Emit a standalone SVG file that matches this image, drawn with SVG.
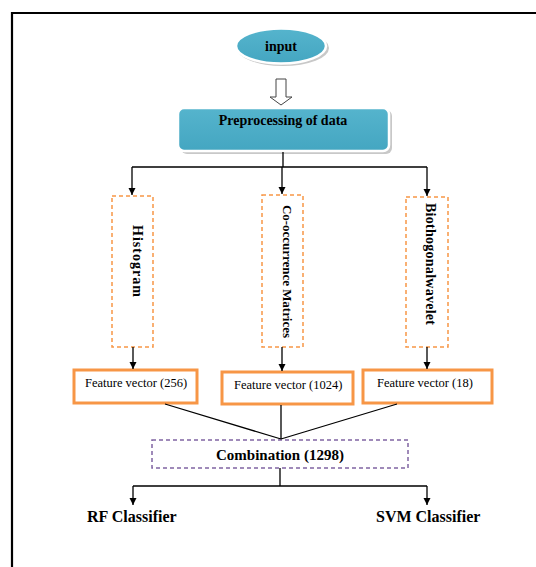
<svg xmlns="http://www.w3.org/2000/svg" width="536" height="567" viewBox="0 0 536 567">
<defs>
<style>
.t{font-family:"Liberation Serif","Times New Roman",serif;fill:#000}
.b{font-weight:bold}
.conn{stroke:#000;stroke-width:1.3;fill:none}
.dash-o{fill:#fff;stroke:#F79646;stroke-width:1.5;stroke-dasharray:4 3}
.fv{fill:#fff;stroke:#F79646;stroke-width:3}
.comb{fill:#fff;stroke:#8064A2;stroke-width:1.5;stroke-dasharray:4 3}
.blue{fill:url(#g);stroke:#fff;stroke-width:2.5}
.shadow{fill:#c8c8c8}
</style>
<linearGradient id="g" x1="0" y1="0" x2="0" y2="1">
<stop offset="0" stop-color="#55B4CD"/>
<stop offset="1" stop-color="#44A6C1"/>
</linearGradient>
<marker id="ah" markerWidth="8" markerHeight="8" refX="7" refY="4" orient="auto" markerUnits="userSpaceOnUse">
<path d="M0,0.5 L7,4 L0,7.5 Z" fill="#000"/>
</marker>
</defs>
<rect width="536" height="567" fill="#fff"/>
<!-- frame -->
<path d="M12,567 L12,13 L536,13" fill="none" stroke="#000" stroke-width="2.2"/>

<g id="input">
<ellipse cx="283" cy="48" rx="46" ry="18" class="shadow"/>
<ellipse cx="281" cy="46" rx="45" ry="17.5" class="blue"/>
<text x="281" y="51" text-anchor="middle" class="t b" font-size="14" fill="#1a1a2e">input</text>
</g>

<g id="hollow-arrow">
<path d="M276,79 L286,79 L286,97 L292,97 L281,105 L270,97 L276,97 Z" fill="#fff" stroke="#444" stroke-width="1"/>
</g>

<g id="preprocessing">
<rect x="181" y="110" width="211" height="44" rx="6" class="shadow"/>
<rect x="178" y="108" width="211" height="43" rx="6" class="blue"/>
<text x="283" y="125" text-anchor="middle" class="t b" font-size="14">Preprocessing of data</text>
</g>

<g id="histogram">
<rect x="112" y="196" width="41" height="151" class="dash-o"/>
<text transform="translate(133,225) rotate(90)" class="t b" font-size="14" textLength="72" lengthAdjust="spacing">Histogram</text>
</g>
<g id="cooccurrence">
<rect x="262" y="195" width="41" height="152" class="dash-o"/>
<text transform="translate(283,205) rotate(90)" class="t b" font-size="13" textLength="133" lengthAdjust="spacing">Co-occurrence Matrices</text>
</g>
<g id="biorthogonal">
<rect x="406" y="197" width="42" height="150" class="dash-o"/>
<text transform="translate(426,203) rotate(90)" class="t b" font-size="14" textLength="122" lengthAdjust="spacing">Biothogonalwavelet</text>
</g>

<g id="fv256">
<rect x="74" y="370" width="123" height="33" class="fv"/>
<text x="85" y="387" class="t" font-size="12.5">Feature vector (256)</text>
</g>
<g id="fv1024">
<rect x="222" y="372" width="131" height="32" class="fv"/>
<text x="234" y="389" class="t" font-size="12.5">Feature vector (1024)</text>
</g>
<g id="fv18">
<rect x="363" y="370" width="129" height="33" class="fv"/>
<text x="377" y="387" class="t" font-size="12.5">Feature vector (18)</text>
</g>

<g id="combination">
<rect x="152" y="440" width="256" height="28" class="comb"/>
<text x="280" y="460" text-anchor="middle" class="t b" font-size="15">Combination (1298)</text>
</g>

<g id="rf">
<text x="87" y="522" class="t b" font-size="16">RF Classifier</text>
</g>
<g id="svm">
<text x="376" y="522" class="t b" font-size="16">SVM Classifier</text>
</g>

<g id="connectors">
<path class="conn" d="M283,152 L283,167 M132,167 L427,167"/>
<path class="conn" d="M132,167 L132,195" marker-end="url(#ah)"/>
<path class="conn" d="M282,167 L282,194" marker-end="url(#ah)"/>
<path class="conn" d="M427,167 L427,196" marker-end="url(#ah)"/>
<path class="conn" d="M133,347 L133,369" marker-end="url(#ah)"/>
<path class="conn" d="M282,347 L282,371" marker-end="url(#ah)"/>
<path class="conn" d="M427,347 L427,369" marker-end="url(#ah)"/>
<path class="conn" d="M165,404 L281,439 M281,405 L281,439 M397,404 L281,439"/>
<path class="conn" d="M280,468 L280,486 M133,486 L427,486"/>
<path class="conn" d="M133,486 L133,505" marker-end="url(#ah)"/>
<path class="conn" d="M427,486 L427,505" marker-end="url(#ah)"/>
</g>
</svg>
